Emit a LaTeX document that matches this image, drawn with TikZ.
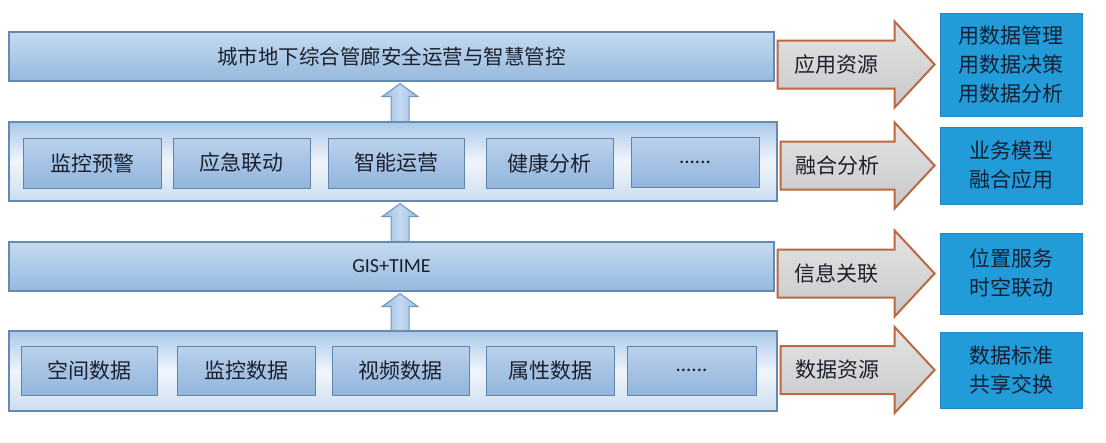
\documentclass[tikz,border=0pt]{standalone}
\usepackage{fontspec}
\newfontfamily\cjk{Noto Sans CJK SC}
\newfontfamily\lat{Carlito}
\usetikzlibrary{calc}
\definecolor{barline}{RGB}{100,138,178}
\definecolor{barTop}{RGB}{196,218,240}
\definecolor{barBot}{RGB}{150,185,222}
\definecolor{contTop}{RGB}{170,200,232}
\definecolor{contMid}{RGB}{240,245,251}
\definecolor{contBot}{RGB}{205,222,240}
\definecolor{inTop}{RGB}{186,209,236}
\definecolor{inBot}{RGB}{146,181,220}
\definecolor{inline}{RGB}{96,132,172}
\definecolor{arTop}{RGB}{150,185,222}
\definecolor{arMid}{RGB}{196,218,240}
\definecolor{arline}{RGB}{110,150,192}
\definecolor{bxblue}{RGB}{33,156,216}
\definecolor{bxline}{RGB}{40,135,195}
\definecolor{bxtxt}{RGB}{22,32,52}
\definecolor{txt}{RGB}{28,32,44}
\definecolor{grTop}{RGB}{228,228,228}
\definecolor{grBot}{RGB}{200,200,202}
\definecolor{brline}{RGB}{188,104,64}
\newcommand{\myuparrow}[2]{%
  \path[uparr] ($(#1)+(-9,0)$) -- ($(#2)+(-9,15)$) -- ($(#2)+(-18,15)$) -- ($(#2)+(0,2)$)
    -- ($(#2)+(18,15)$) -- ($(#2)+(9,15)$) -- ($(#1)+(9,0)$) -- cycle;}
\newcommand{\myrarrow}[3]{%
  \coordinate (t) at ($(#1.east |- #2.west)+(3,0)$);
  \coordinate (p) at ($(#2.west)+(-5,0)$);
  \path[rarr] ($(t)+(0,-24)$) -- ($(p)+(-40,-24)$) -- ($(p)+(-40,-43)$) -- (p)
    -- ($(p)+(-40,43)$) -- ($(p)+(-40,24)$) -- ($(t)+(0,24)$) -- cycle;
  \path (t) -- ($(p)+(-40,0)$) node[midway, rlab] {#3};}
\begin{document}
\begin{tikzpicture}[x=1pt,y=-1pt,
  bar/.style={draw=barline, line width=1.2pt, top color=barTop, bottom color=barBot,
    inner sep=0pt, text=txt},
  cont/.style={draw=barline, line width=1.2pt, top color=contTop, bottom color=contBot,
    middle color=contMid, inner sep=0pt},
  inbox/.style={draw=inline, line width=1pt, top color=inTop, bottom color=inBot,
    inner sep=0pt, text=txt, font=\cjk\fontsize{21}{24}\selectfont},
  dots/.style={font=\lat\fontsize{21}{24}\selectfont},
  bluebox/.style={fill=bxblue, draw=bxline, line width=0.8pt, inner sep=0pt, text=bxtxt,
    align=center, font=\cjk\fontsize{21}{29}\selectfont},
  uparr/.style={draw=arline, line width=1pt, left color=arTop, right color=arTop, middle color=arMid},
  rarr/.style={draw=brline, line width=2pt, line join=miter, top color=grTop, bottom color=grBot},
  rlab/.style={text=txt, font=\cjk\fontsize{21}{24}\selectfont}]
\useasboundingbox (0,0) rectangle (1106,442);
\fill[white] (0,0) rectangle (1106,442);
\coordinate (ax) at (400,0);
% layer bars
\node[bar, minimum width=765, minimum height=49, font=\cjk\fontsize{20.5}{24}\selectfont]
  (bar1) at (391.5,56.5) {城市地下综合管廊安全运营与智慧管控};
\node[cont, minimum width=768, minimum height=79] (bar2) at (393,161.5) {};
\node[bar, minimum width=765, minimum height=49, font=\lat\fontsize{20}{22}\selectfont]
  (bar3) at (391.5,266.5) {GIS+TIME};
\node[cont, minimum width=768, minimum height=80] (bar4) at (393,371) {};
% inner boxes, row 2
\node[inbox, minimum width=138, minimum height=50] (a1) at (92,163) {监控预警};
\node[inbox, minimum width=137, minimum height=50] (a2) at (241.5,163) {应急联动};
\node[inbox, minimum width=136, minimum height=50] (a3) at (396,163) {智能运营};
\node[inbox, minimum width=127, minimum height=50] (a4) at (549.5,163) {健康分析};
\node[inbox, dots, minimum width=128, minimum height=50] (a5) at (695,162) {......};
% inner boxes, row 4
\node[inbox, minimum width=136, minimum height=49] (b1) at (89,370.5) {空间数据};
\node[inbox, minimum width=138, minimum height=49] (b2) at (246,370.5) {监控数据};
\node[inbox, minimum width=137, minimum height=49] (b3) at (400.5,370.5) {视频数据};
\node[inbox, minimum width=128, minimum height=49] (b4) at (550,370.5) {属性数据};
\node[inbox, dots, minimum width=129, minimum height=49] (b5) at (691.5,370.5) {......};
% up arrows
\myuparrow{bar2.north -| ax}{bar1.south -| ax}
\myuparrow{bar3.north -| ax}{bar2.south -| ax}
\myuparrow{bar4.north -| ax}{bar3.south -| ax}
% right blue boxes
\node[bluebox, minimum width=142, minimum height=103] (c1) at (1011,64.5) {用数据管理\\用数据决策\\用数据分析};
\node[bluebox, minimum width=142, minimum height=77] (c2) at (1011,165.5) {业务模型\\融合应用};
\node[bluebox, minimum width=142, minimum height=81] (c3) at (1011,273.5) {位置服务\\时空联动};
\node[bluebox, minimum width=142, minimum height=76] (c4) at (1011,370) {数据标准\\共享交换};
% right arrows
\myrarrow{bar1}{c1}{应用资源}
\myrarrow{bar2}{c2}{融合分析}
\myrarrow{bar3}{c3}{信息关联}
\myrarrow{bar4}{c4}{数据资源}
\end{tikzpicture}
\end{document}
